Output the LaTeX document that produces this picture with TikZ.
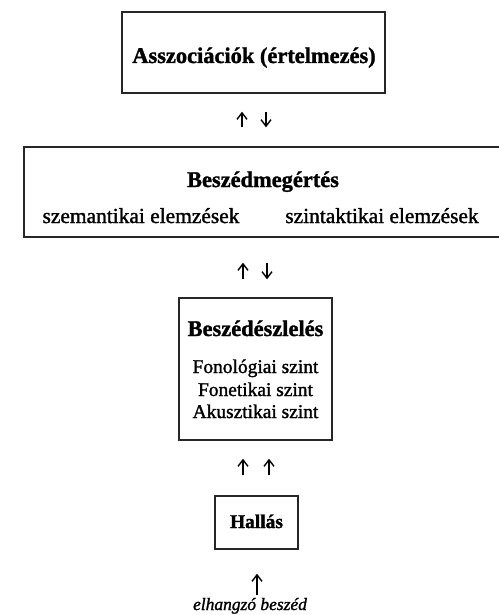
\documentclass[tikz,border=0pt]{standalone}
\usepackage{fontspec}
\setmainfont{Liberation Serif}[FakeBold=1.4]
\usetikzlibrary{arrows.meta}

\begin{document}
\begin{tikzpicture}[x=1bp, y=-1bp,
	doboz/.style={draw=black!85, line width=1.4bp, inner sep=0pt},
	nyil/.style={line width=1.4bp, -{Straight Barb[length=6.5bp,width=10bp,line width=1.4bp]}},
	cim/.style={font=\fontsize{22.5}{26}\selectfont\bfseries, inner sep=0pt, anchor=base},
	sor/.style={font=\fontsize{21.5}{25}\selectfont, inner sep=0pt, anchor=base},
	kissor/.style={font=\fontsize{19.5}{23}\selectfont, inner sep=0pt, anchor=base}]
	\useasboundingbox (0,0) rectangle (499,615);
	% dobozok
	\node[doboz, minimum width=263bp, minimum height=81bp] (assoc) at (253.5,52.5) {};
	\node[doboz, minimum width=476bp, minimum height=90bp] (megertes) at (262,192) {};
	\node[doboz, minimum width=153bp, minimum height=142bp] (eszleles) at (255.5,369) {};
	\node[doboz, minimum width=83bp, minimum height=53bp] (hallas) at (256.5,522.5) {};
	% szovegek
	\node[cim] (assoccim) at (254,63) {Asszociációk (értelmezés)};
	\node[cim] (megertescim) at (263,187) {Beszédmegértés};
	\node[sor] (szemant) at (141,223) {szemantikai elemzések};
	\node[sor] (szintakt) at (382,223) {szintaktikai elemzések};
	\node[cim] (eszlelescim) at (255.5,336) {Beszédészlelés};
	\node[kissor] (fonol) at (255.5,373) {Fonológiai szint};
	\node[kissor] (fonet) at (255.5,396) {Fonetikai szint};
	\node[kissor] (akuszt) at (255.5,418) {Akusztikai szint};
	\node[kissor, font=\fontsize{19.5}{23}\selectfont\bfseries] (hallascim) at (256.5,528) {Hallás};
	\node[font=\fontsize{17.5}{21}\selectfont\itshape, inner sep=0pt, anchor=base] (beszed) at (250,610) {elhangzó beszéd};
	% nyilak
	\draw[nyil, shorten <=19bp, shorten >=18bp] (242,0 |- megertes.north) -- (242,0 |- assoc.south);
	\draw[nyil, shorten <=18bp, shorten >=19bp] (266,0 |- assoc.south) -- (266,0 |- megertes.north);
	\draw[nyil, shorten <=18bp, shorten >=25bp] (243,0 |- eszleles.north) -- (243,0 |- megertes.south);
	\draw[nyil, shorten <=25bp, shorten >=18bp] (267,0 |- megertes.south) -- (267,0 |- eszleles.north);
	\draw[nyil, shorten <=20bp, shorten >=18bp] (243,0 |- hallas.north) -- (243,0 |- eszleles.south);
	\draw[nyil, shorten <=20bp, shorten >=18bp] (269,0 |- hallas.north) -- (269,0 |- eszleles.south);
	\draw[nyil, shorten <=3bp, shorten >=24bp] (257,0 |- beszed.north) -- (257,0 |- hallas.south);
\end{tikzpicture}
\end{document}
